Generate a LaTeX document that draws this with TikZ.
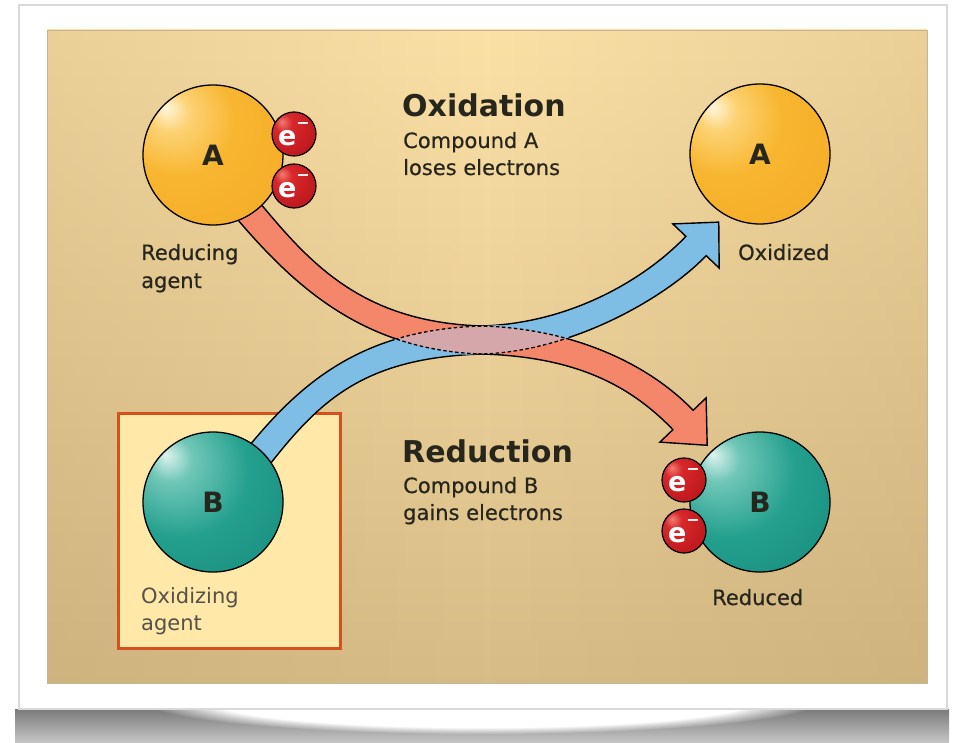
\documentclass[tikz,border=0pt]{standalone}
\usepackage{fontspec}
\setmainfont{DejaVu Sans}
\newfontfamily\labelfont[FakeBold=0.5]{DejaVu Sans}
\usetikzlibrary{calc,fadings}

% palette
\definecolor{ink}{HTML}{26261C}
\definecolor{softink}{HTML}{55514A}
\definecolor{panelTop}{HTML}{FBE1A6}
\definecolor{panelMid}{HTML}{F3D79D}
\definecolor{panelBot}{HTML}{D8BC87}
\definecolor{panelEdge}{HTML}{B09463}
\definecolor{orA}{HTML}{FFF6DC}
\definecolor{orB}{HTML}{FCD274}
\definecolor{orC}{HTML}{F8B630}
\definecolor{orD}{HTML}{F4A823}
\definecolor{orE}{HTML}{E39314}
\definecolor{tlA}{HTML}{DDF3EE}
\definecolor{tlB}{HTML}{6FC6B7}
\definecolor{tlC}{HTML}{24A08E}
\definecolor{tlD}{HTML}{16897A}
\definecolor{tlE}{HTML}{0B6A5E}
\definecolor{rdA}{HTML}{F27C72}
\definecolor{rdB}{HTML}{D8282B}
\definecolor{rdC}{HTML}{C21B1F}
\definecolor{rdD}{HTML}{9E1013}
\definecolor{coral}{HTML}{F4866A}
\definecolor{skyband}{HTML}{7EBEE4}
\definecolor{lens}{HTML}{D6A7AA}
\definecolor{boxfill}{HTML}{FFE8A8}
\definecolor{boxline}{HTML}{D4501C}

\pgfdeclareradialshading{orangeball}{\pgfpoint{-17bp}{17bp}}{color(0bp)=(orA); color(7bp)=(orB); color(20bp)=(orC); color(50bp)=(orD); color(72bp)=(orE)}
\pgfdeclareradialshading{tealball}{\pgfpoint{-17bp}{17bp}}{color(0bp)=(tlA); color(8bp)=(tlB); color(24bp)=(tlC); color(48bp)=(tlD); color(72bp)=(tlE)}
\pgfdeclareradialshading{redball}{\pgfpoint{-14bp}{14bp}}{color(0bp)=(rdA); color(10bp)=(rdB); color(30bp)=(rdC); color(72bp)=(rdD)}
% darkening towards the left and right edges of the panel
\tikzfading[name=sidesdark, left color=transparent!78, right color=transparent!78, middle color=transparent!100]

% offset edge coordinates of a two-segment band: prefix, side, angle, opposite angle
\newcommand\bandside[4]{%
  \coordinate (#1#20) at ($(#10)!14pt!#3:(#11)$);
  \coordinate (#1#21) at ($(#11)!14pt!#4:(#10)$);
  \coordinate (#1#22) at ($(#12)!14pt!#3:(#13)$);
  \coordinate (#1#23) at ($(#13)!14pt!#4:(#12)$);
  \coordinate (#1#24) at ($(#14)!14pt!#4:(#13)$);
  \coordinate (#1#25) at ($(#15)!14pt!#3:(#16)$);
  \coordinate (#1#26) at ($(#16)!14pt!#4:(#15)$);
  \coordinate (#1#2w) at ($(#16)!32pt!#4:(#15)$);
}
\newcommand\elec{e\raisebox{17pt}{\fontsize{16}{16}\selectfont −}}

\tikzset{
  bandbody/.style={insert path={(#1L0) .. controls (#1L1) and (#1L2) .. (#1L3) .. controls (#1L4) and (#1L5) .. (#1L6) -- (#1R6) .. controls (#1R5) and (#1R4) .. (#1R3) .. controls (#1R2) and (#1R1) .. (#1R0) -- cycle}},
  bandshape/.style={insert path={(#1L0) .. controls (#1L1) and (#1L2) .. (#1L3) .. controls (#1L4) and (#1L5) .. (#1L6) -- (#1Lw) -- (#1tip) -- (#1Rw) -- (#1R6) .. controls (#1R5) and (#1R4) .. (#1R3) .. controls (#1R2) and (#1R1) .. (#1R0) -- cycle}},
  bandedges/.style={insert path={(#1L0) .. controls (#1L1) and (#1L2) .. (#1L3) .. controls (#1L4) and (#1L5) .. (#1L6) (#1R0) .. controls (#1R1) and (#1R2) .. (#1R3) .. controls (#1R4) and (#1R5) .. (#1R6)}},
  arrowline/.style={draw=black, line width=1.4pt, line join=miter},
  dashline/.style={draw=black, line width=1.3pt, dash pattern=on 3.5pt off 2.5pt},
  ball/.style={circle, draw=black, line width=1.3pt, minimum size=140pt, inner sep=0pt,
    font=\fontsize{28}{28}\selectfont\bfseries, text=ink},
  orangeballstyle/.style={ball, shade, shading=orangeball},
  tealballstyle/.style={ball, shade, shading=tealball},
  electron/.style={circle, draw=black, line width=1.2pt, minimum size=44pt, inner sep=0pt,
    shade, shading=redball, text=white, font=\fontsize{27}{27}\selectfont\bfseries},
  heading/.style={anchor=base west, inner sep=0pt, font=\fontsize{30}{30}\selectfont\bfseries, text=ink},
  body/.style={anchor=base west, inner sep=0pt, font=\fontsize{21}{21}\selectfont\labelfont, text=ink},
  faint/.style={anchor=base west, inner sep=0pt, font=\fontsize{21}{21}\selectfont, text=softink},
  agentbox/.style={draw=boxline, line width=3pt, fill=boxfill, inner sep=0pt},
}

\begin{document}
\begin{tikzpicture}[x=1pt,y=-1pt]
\useasboundingbox (0,0) rectangle (955,743);
\fill[white] (0,0) rectangle (955,743);

% lifted-card shadow under the frame: dark at the corners, pale in the middle
\shade[top color=black!52, bottom color=black!22] (15,709) rectangle (949,743);
\fill[white, path fading=circle with fuzzy edge 20 percent] (482,700) ellipse [x radius=340, y radius=34];

% white frame
\fill[white] (19,5) rectangle (947,709);
\draw[gray!30, line width=1.2pt] (19,5) rectangle (947,709);

% warm panel: light at the top, tan at the bottom, darker at the sides
\shade[top color=panelTop, middle color=panelMid, bottom color=panelBot] (47,30) rectangle (927,683);
\fill[panelEdge, path fading=sidesdark] (47,30) rectangle (927,683);
\draw[panelEdge!70, line width=0.6pt] (47,30) rectangle (927,683);

% box around the oxidizing agent
\node[agentbox, minimum width=222pt, minimum height=235pt] (obox) at (229,530.5) {};

% centre lines of the two bands
\coordinate (r0) at (235,195);
\coordinate (r1) at (290,260);
\coordinate (r2) at (350,336);
\coordinate (r3) at (482,340);
\coordinate (r4) at (572,342.7);
\coordinate (r5) at (638,373);
\coordinate (r6) at (683,420);
\coordinate (b0) at (240,480);
\coordinate (b1) at (300,402);
\coordinate (b2) at (350,344);
\coordinate (b3) at (482,340);
\coordinate (b4) at (572,337.3);
\coordinate (b5) at (656,288);
\coordinate (b6) at (696,246);
\coordinate (rtip) at ($(r6)!-35pt!(r5)$);
\coordinate (btip) at ($(b6)!-33pt!(b5)$);
\bandside{r}{L}{90}{-90}
\bandside{r}{R}{-90}{90}
\bandside{b}{L}{90}{-90}
\bandside{b}{R}{-90}{90}

% blue band: oxidizing agent B takes the electrons from A
\filldraw[fill=skyband, arrowline, bandshape=b];
% coral band: electrons of A go to B
\filldraw[fill=coral, arrowline, bandshape=r];
% overlap of the two bands
\begin{scope}
  \clip[bandbody=b];
  \draw[skyband, line width=3.2pt, bandedges=r];
\end{scope}
\begin{scope}
  \clip[bandbody=b];
  \clip[bandbody=r];
  \fill[lens, bandbody=r];
\end{scope}
\begin{scope}
  \clip[bandbody=r];
  \draw[dashline, bandedges=b];
\end{scope}
\begin{scope}
  \clip[bandbody=b];
  \draw[dashline, bandedges=r];
\end{scope}

% compounds
\node[orangeballstyle] (Ared) at (213,155) {A};
\node[orangeballstyle] (Aox) at (760,154) {A};
\node[tealballstyle] (Bagent) at (213,502) {B};
\node[tealballstyle] (Bred) at (760,502) {B};

% electrons
\node[electron] (ea1) at (294,134) {\elec};
\node[electron] (ea2) at (294,186) {\elec};
\node[electron] (eb1) at (684,480) {\elec};
\node[electron] (eb2) at (684,531) {\elec};

% labels
\node[heading] (oxhead) at (402,117) {Oxidation};
\node[body] (oxline1) at (403,148) {Compound A};
\node[body] (oxline2) at (403,175) {loses electrons};
\node[heading] (redhead) at (402,462) {Reduction};
\node[body] (redline1) at (403,493) {Compound B};
\node[body] (redline2) at (403,520) {gains electrons};
\node[body] (ralab1) at (141,260) {Reducing};
\node[body] (ralab2) at (141,288) {agent};
\node[body] (oxlab) at (738,260) {Oxidized};
\node[faint] (oalab1) at (141,603) {Oxidizing};
\node[faint] (oalab2) at (141,630) {agent};
\node[body] (rdlab) at (712,605) {Reduced};
\end{tikzpicture}
\end{document}
